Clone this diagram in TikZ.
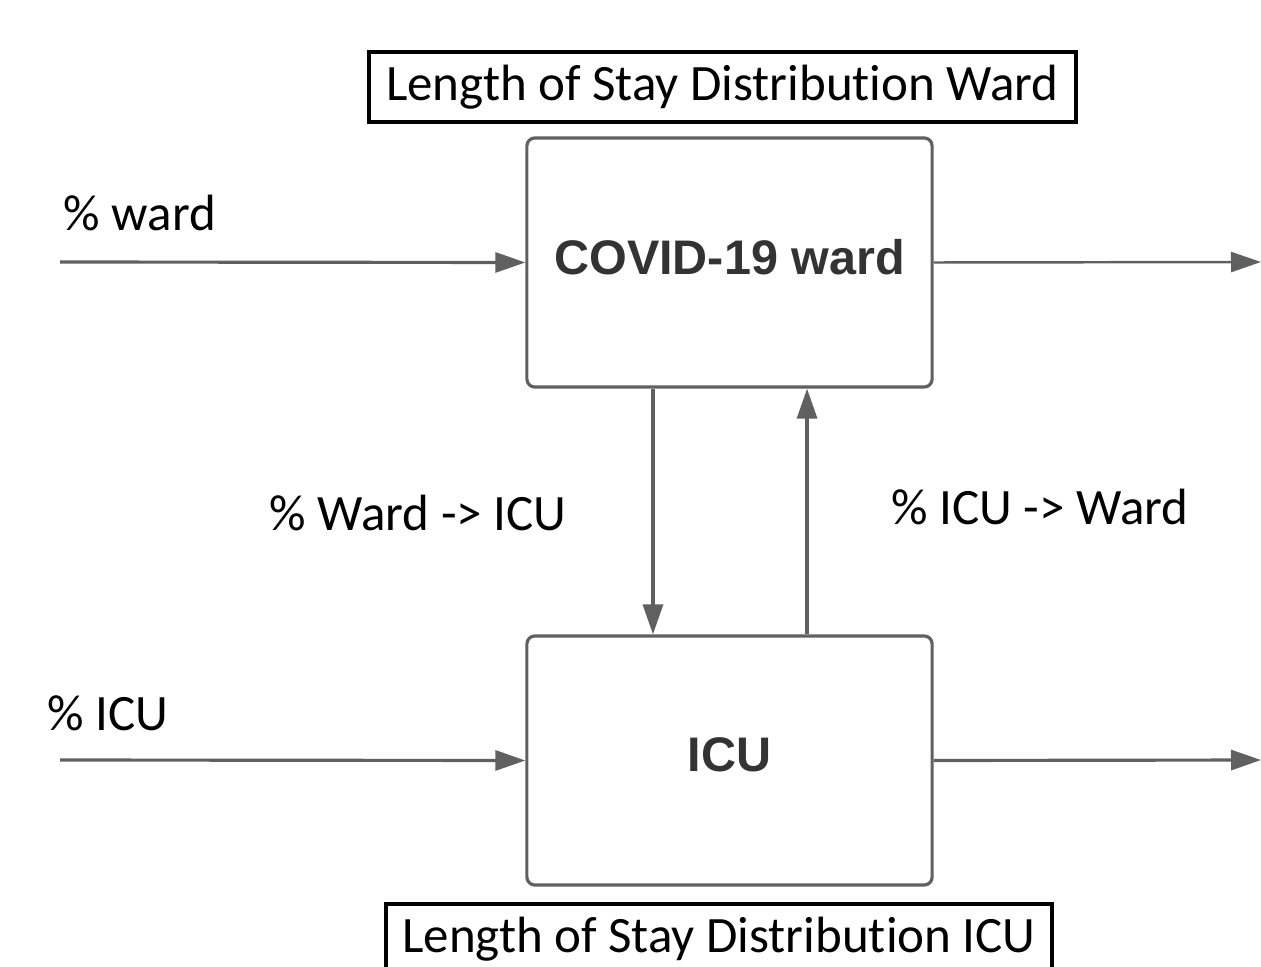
\documentclass[tikz,border=0pt]{standalone}
\usepackage{fontspec}
\setmainfont{Carlito}[Ligatures = {NoCommon, NoContextual}, RawFeature = {-liga;-clig;-dlig}]
\newfontfamily\boxfont{Liberation Sans}
\usetikzlibrary{arrows.meta}

\definecolor{flowgray}{HTML}{606060}
\definecolor{textgray}{HTML}{333333}

\tikzset{
    unitbox/.style = {draw = flowgray, line width = 0.9pt, rounded corners = 0.08cm,
        minimum width = 4.05cm, minimum height = 2.49cm, text depth = 0.12cm,
        font = \boxfont\bfseries\fontsize{13.8}{16}\selectfont, text = textgray},
    losbox/.style = {draw = black, line width = 1.2pt, minimum height = 0.7cm,
        font = \fontsize{14.5}{17}\selectfont, inner sep = 0pt},
    flowlabel/.style = {font = \fontsize{14.5}{17}\selectfont, inner sep = 0pt},
    flow/.style = {draw = flowgray, line width = 0.9pt,
        -{Triangle[length = 3mm, width = 2mm]}}
}

\begin{document}
\begin{tikzpicture}[x = 0.01cm, y = -0.01cm]
    \useasboundingbox (0, 0) rectangle (1261, 967);

% The two units of the model.
    \node [unitbox] (ward) at (729.5, 262.5) {COVID-19 ward};
    \node [unitbox] (icu) at (729.5, 760.5) {ICU};

% Length of stay boxes above and below.
    \node [losbox, minimum width = 7.07cm] (losward) at (722.5, 87) {Length of Stay Distribution Ward};
    \node [losbox, minimum width = 6.66cm, anchor = north] (losicu) at (719, 902) {Length of Stay Distribution ICU};

% Free ends of the inflows and outflows.
    \coordinate (inward) at (60, 262);
    \coordinate (inicu) at (60, 760);
    \coordinate (outward) at (1261, 262);
    \coordinate (outicu) at (1261, 760);

    \draw [flow] (inward) -- (ward.west);
    \draw [flow] (inicu) -- (icu.west);
    \draw [flow, line width = 0.7pt] (ward.east) -- (outward);
    \draw [flow] (icu.east) -- (outicu);

% Transfers between ward and ICU.
    \draw [flow] ([xshift = -0.765cm] ward.south) -- ([xshift = -0.765cm] icu.north);
    \draw [flow] ([xshift = 0.775cm] icu.north) -- ([xshift = 0.775cm] ward.south);

    \node [flowlabel, anchor = west] (pward) at (63, 213) {\% ward};
    \node [flowlabel, anchor = west] (picu) at (47, 713) {\% ICU};
    \node [flowlabel] (pwardicu) at (418, 513) {\% Ward -> ICU};
    \node [flowlabel] (picuward) at (1040, 507) {\% ICU -> Ward};
\end{tikzpicture}
\end{document}
